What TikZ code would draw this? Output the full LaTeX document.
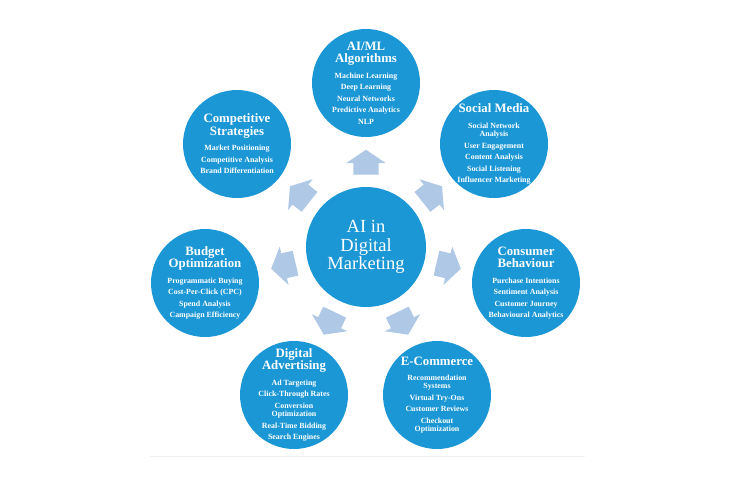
\documentclass[tikz,border=0pt]{standalone}
\usepackage{fontspec}
\setmainfont{Liberation Serif}
\usepackage{tikz}
\usetikzlibrary{calc,shapes.arrows}
\definecolor{BubbleBlue}{HTML}{1C97D5}
\definecolor{ArrowBlue}{HTML}{AFC8E6}
\definecolor{RuleGrey}{HTML}{F1F1F1}
\normallineskiplimit=-20pt
\lineskiplimit=-20pt
\newcommand{\hd}[1]{{\fontsize{12.8}{8.3}\selectfont\bfseries #1}}
\newcommand{\sub}[1]{{\bfseries #1}}

\begin{document}
\begin{tikzpicture}[x=1pt,y=1pt]
\tikzset{
bubble/.style={ circle , fill=BubbleBlue , minimum size=108pt , inner sep=0pt },
blurb/.style={ text=white , inner sep=0pt , align=center ,
font=\fontsize{7.9}{8.3}\selectfont },
hub/.style={ bubble , minimum size=120pt , text=white , align=center ,
font=\fontsize{18.5}{18.5}\selectfont },
flow/.style={ single arrow , fill=ArrowBlue , inner xsep=0pt , inner ysep=12.5pt ,
minimum height=25pt , single arrow head extend=7pt , single arrow tip angle=112 }
}
\useasboundingbox (0,0) rectangle (733,-483);

\draw[RuleGrey] (150,-456) -- (585,-456);

\node[hub] (market) at (366,-247) {AI in\\Digital\\Marketing};

\node[bubble] (aiml) at (366,-83) {};
\node[blurb] (aimltext) at (aiml) {\hd{AI/ML}\\[4.2pt]\hd{Algorithms}\\[7.3pt]
	\sub{Machine Learning}\\[3.2pt]\sub{Deep Learning}\\[3.2pt]\sub{Neural Networks}\\[3.2pt]
	\sub{Predictive Analytics}\\[3.2pt]\sub{NLP}};
\node[bubble] (social) at (494,-144) {};
\node[blurb] (socialtext) at (social) {\hd{Social Media}\\[7.3pt]
	\sub{Social Network}\\\sub{Analysis}\\[3.2pt]\sub{User Engagement}\\[3.2pt]
	\sub{Content Analysis}\\[3.2pt]\sub{Social Listening}\\[3.2pt]\sub{Influencer Marketing}};
\node[bubble] (consumer) at (526,-283) {};
\node[blurb] (consumertext) at (consumer) {\hd{Consumer}\\[4.2pt]\hd{Behaviour}\\[7.3pt]
	\sub{Purchase Intentions}\\[3.2pt]\sub{Sentiment Analysis}\\[3.2pt]
	\sub{Customer Journey}\\[3.2pt]\sub{Behavioural Analytics}};
\node[bubble] (ecom) at (437,-395) {};
\node[blurb] (ecomtext) at (ecom) {\hd{E-Commerce}\\[7.3pt]
	\sub{Recommendation}\\\sub{Systems}\\[3.2pt]\sub{Virtual Try-Ons}\\[3.2pt]
	\sub{Customer Reviews}\\[3.2pt]\sub{Checkout}\\\sub{Optimization}};
\node[bubble] (digital) at (294,-395) {};
\node[blurb] (digitaltext) at (digital) {\hd{Digital}\\[4.2pt]\hd{Advertising}\\[7.3pt]
	\sub{Ad Targeting}\\[3.2pt]\sub{Click-Through Rates}\\[3.2pt]\sub{Conversion}\\\sub{Optimization}\\[3.2pt]
	\sub{Real-Time Bidding}\\[3.2pt]\sub{Search Engines}};
\node[bubble] (budget) at (205,-283) {};
\node[blurb] (budgettext) at (budget) {\hd{Budget}\\[4.2pt]\hd{Optimization}\\[7.3pt]
	\sub{Programmatic Buying}\\[3.2pt]\sub{Cost-Per-Click (CPC)}\\[3.2pt]
	\sub{Spend Analysis}\\[3.2pt]\sub{Campaign Efficiency}};
\node[bubble] (compete) at (237,-144) {};
\node[blurb] (competetext) at (compete) {\hd{Competitive}\\[4.2pt]\hd{Strategies}\\[7.3pt]
	\sub{Market Positioning}\\[3.2pt]\sub{Competitive Analysis}\\[3.2pt]\sub{Brand Differentiation}};

\foreach \ang/\name in {90/aiml,38.6/social,-12.9/consumer,-64.3/ecom,-115.7/digital,-167.1/budget,141.4/compete}
	\node[flow,rotate=\ang] (to\name) at ($(market)+(\ang:80.5)$) {};

\end{tikzpicture}
\end{document}
